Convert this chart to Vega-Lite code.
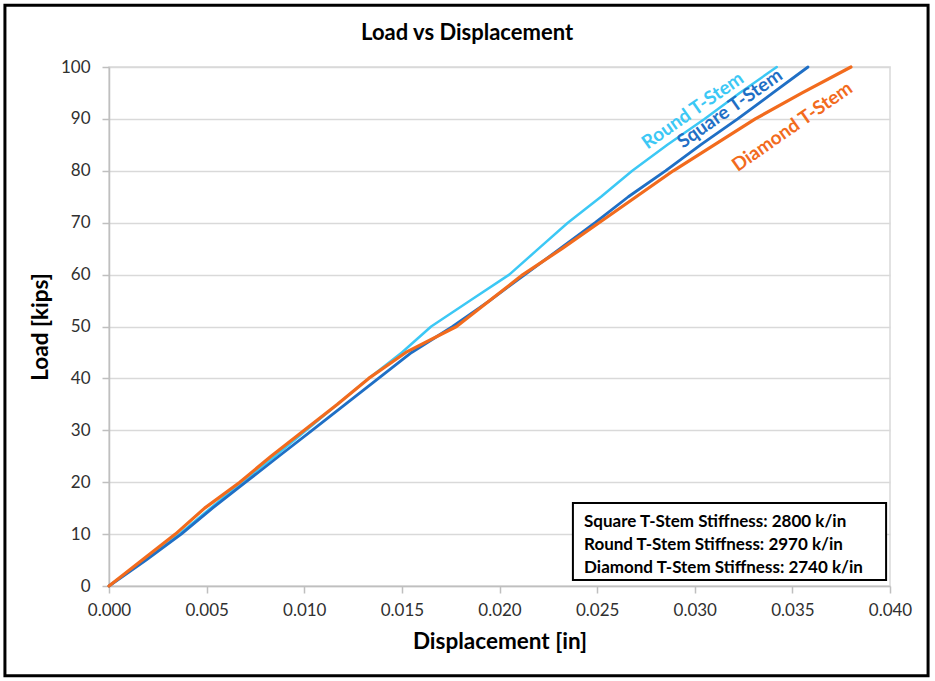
{
  "$schema": "https://vega.github.io/schema/vega-lite/v6.json",
  "autosize": {"type": "none"},
  "width": 781,
  "height": 519,
  "padding": {"left": 109, "top": 67, "right": 45, "bottom": 95},
  "background": "white",
  "config": {
    "view": {"stroke": "#d9d9d9", "strokeWidth": 1.5},
    "axis": {
      "labelFont": "Lato",
      "labelFontSize": 17,
      "labelColor": "#303030",
      "titleFont": "Lato",
      "titleFontSize": 22.5,
      "titleFontWeight": "bold",
      "titleColor": "#000000",
      "domainColor": "#bfbfbf",
      "domainWidth": 1.5,
      "tickColor": "#bfbfbf",
      "tickWidth": 1.5,
      "tickSize": 7,
      "gridColor": "#d9d9d9",
      "gridWidth": 1.5,
      "labelFlush": false
    }
  },
  "datasets": {
    "curves": [
      {"series": "Round", "disp": 0.0, "load": 0},
      {"series": "Round", "disp": 0.0018, "load": 5},
      {"series": "Round", "disp": 0.0036, "load": 10},
      {"series": "Round", "disp": 0.0052, "load": 15},
      {"series": "Round", "disp": 0.0068, "load": 20},
      {"series": "Round", "disp": 0.0085, "load": 25},
      {"series": "Round", "disp": 0.0101, "load": 30},
      {"series": "Round", "disp": 0.0117, "load": 35},
      {"series": "Round", "disp": 0.0133, "load": 40},
      {"series": "Round", "disp": 0.0150, "load": 45},
      {"series": "Round", "disp": 0.0165, "load": 50},
      {"series": "Round", "disp": 0.0185, "load": 55},
      {"series": "Round", "disp": 0.0205, "load": 60},
      {"series": "Round", "disp": 0.0220, "load": 65},
      {"series": "Round", "disp": 0.0235, "load": 70},
      {"series": "Round", "disp": 0.0252, "load": 75},
      {"series": "Round", "disp": 0.0268, "load": 80},
      {"series": "Round", "disp": 0.0286, "load": 85},
      {"series": "Round", "disp": 0.0305, "load": 90},
      {"series": "Round", "disp": 0.0323, "load": 95},
      {"series": "Round", "disp": 0.0342, "load": 100},
      {"series": "Square", "disp": 0.0, "load": 0},
      {"series": "Square", "disp": 0.0019, "load": 5},
      {"series": "Square", "disp": 0.0037, "load": 10},
      {"series": "Square", "disp": 0.0053, "load": 15},
      {"series": "Square", "disp": 0.0070, "load": 20},
      {"series": "Square", "disp": 0.0087, "load": 25},
      {"series": "Square", "disp": 0.0104, "load": 30},
      {"series": "Square", "disp": 0.0121, "load": 35},
      {"series": "Square", "disp": 0.0138, "load": 40},
      {"series": "Square", "disp": 0.0155, "load": 45},
      {"series": "Square", "disp": 0.0176, "load": 50},
      {"series": "Square", "disp": 0.0195, "load": 55},
      {"series": "Square", "disp": 0.0213, "load": 60},
      {"series": "Square", "disp": 0.0231, "load": 65},
      {"series": "Square", "disp": 0.0249, "load": 70},
      {"series": "Square", "disp": 0.0266, "load": 75},
      {"series": "Square", "disp": 0.0285, "load": 80},
      {"series": "Square", "disp": 0.0303, "load": 85},
      {"series": "Square", "disp": 0.0322, "load": 90},
      {"series": "Square", "disp": 0.0340, "load": 95},
      {"series": "Square", "disp": 0.0358, "load": 100},
      {"series": "Diamond", "disp": 0.0, "load": 0},
      {"series": "Diamond", "disp": 0.0017, "load": 5},
      {"series": "Diamond", "disp": 0.0034, "load": 10},
      {"series": "Diamond", "disp": 0.0049, "load": 15},
      {"series": "Diamond", "disp": 0.0067, "load": 20},
      {"series": "Diamond", "disp": 0.0083, "load": 25},
      {"series": "Diamond", "disp": 0.0100, "load": 30},
      {"series": "Diamond", "disp": 0.0117, "load": 35},
      {"series": "Diamond", "disp": 0.0133, "load": 40},
      {"series": "Diamond", "disp": 0.0152, "load": 45},
      {"series": "Diamond", "disp": 0.0178, "load": 50},
      {"series": "Diamond", "disp": 0.0195, "load": 55},
      {"series": "Diamond", "disp": 0.0212, "load": 60},
      {"series": "Diamond", "disp": 0.0232, "load": 65},
      {"series": "Diamond", "disp": 0.0251, "load": 70},
      {"series": "Diamond", "disp": 0.0270, "load": 75},
      {"series": "Diamond", "disp": 0.0289, "load": 80},
      {"series": "Diamond", "disp": 0.0310, "load": 85},
      {"series": "Diamond", "disp": 0.0331, "load": 90},
      {"series": "Diamond", "disp": 0.0355, "load": 95},
      {"series": "Diamond", "disp": 0.0380, "load": 100}
    ],
    "labels": [
      {"series": "Round", "text": "Round T-Stem", "disp": 0.0299, "load": 91.6},
      {"series": "Square", "text": "Square T-Stem", "disp": 0.0318, "load": 92.0},
      {"series": "Diamond", "text": "Diamond T-Stem", "disp": 0.0350, "load": 88.5}
    ],
    "box": [
      {"x1": 0.02376, "x2": 0.0398, "y1": 16.0, "y2": 1.16}
    ],
    "notes": [
      {"text": "Square T-Stem Stiffness: 2800 k/in", "disp": 0.02433, "load": 12.3},
      {"text": "Round T-Stem Stiffness: 2970 k/in", "disp": 0.02433, "load": 7.9},
      {"text": "Diamond T-Stem Stiffness: 2740 k/in", "disp": 0.02433, "load": 3.5}
    ],
    "heading": [
      {"text": "Load vs Displacement", "disp": 0.01834, "load": 106.6}
    ],
    "frame": [
      {"x1": -0.00533, "x2": 0.04195, "y1": 111.9, "y2": -17.3}
    ]
  },
  "layer": [
    {
      "data": {"name": "curves"},
      "mark": {"type": "line", "strokeCap": "round", "strokeJoin": "round"},
      "encoding": {
        "x": {
          "field": "disp", "type": "quantitative",
          "scale": {"domain": [0, 0.04], "nice": false},
          "axis": {"title": "Displacement [in]", "format": ".3f", "values": [0, 0.005, 0.01, 0.015, 0.02, 0.025, 0.03, 0.035, 0.04], "grid": false, "labelPadding": 9, "titlePadding": 12}
        },
        "y": {
          "field": "load", "type": "quantitative",
          "scale": {"domain": [0, 100], "nice": false},
          "axis": {"title": "Load [kips]", "values": [0, 10, 20, 30, 40, 50, 60, 70, 80, 90, 100], "grid": true, "labelPadding": 12, "titlePadding": 8}
        },
        "color": {
          "field": "series", "type": "nominal",
          "scale": {"domain": ["Round", "Square", "Diamond"], "range": ["#3CC8F5", "#1F6FC5", "#F26B1D"]},
          "legend": null
        },
        "strokeWidth": {
          "field": "series", "type": "nominal",
          "scale": {"domain": ["Round", "Square", "Diamond"], "range": [2.5, 3.2, 2.5]},
          "legend": null
        }
      }
    },
    {
      "data": {"name": "labels"},
      "mark": {"type": "text", "font": "Lato", "fontSize": 19, "fontWeight": "bold", "angle": 325, "align": "center", "baseline": "middle"},
      "encoding": {
        "x": {"field": "disp", "type": "quantitative"},
        "y": {"field": "load", "type": "quantitative"},
        "text": {"field": "text"},
        "color": {"field": "series", "type": "nominal", "legend": null}
      }
    },
    {
      "data": {"name": "box"},
      "mark": {"type": "rect", "fill": "white", "stroke": "#000000", "strokeWidth": 2},
      "encoding": {
        "x": {"field": "x1", "type": "quantitative"},
        "x2": {"field": "x2"},
        "y": {"field": "y1", "type": "quantitative"},
        "y2": {"field": "y2"}
      }
    },
    {
      "data": {"name": "notes"},
      "mark": {"type": "text", "font": "Lato", "fontSize": 17, "fontWeight": "bold", "align": "left", "baseline": "middle", "color": "#000000"},
      "encoding": {
        "x": {"field": "disp", "type": "quantitative"},
        "y": {"field": "load", "type": "quantitative"},
        "text": {"field": "text"}
      }
    },
    {
      "data": {"name": "heading"},
      "mark": {"type": "text", "font": "Lato", "fontSize": 22, "fontWeight": "bold", "align": "center", "baseline": "middle", "color": "#000000", "clip": false},
      "encoding": {
        "x": {"field": "disp", "type": "quantitative"},
        "y": {"field": "load", "type": "quantitative"},
        "text": {"field": "text"}
      }
    },
    {
      "data": {"name": "frame"},
      "mark": {"type": "rect", "fill": null, "fillOpacity": 0, "stroke": "#000000", "strokeWidth": 3, "clip": false},
      "encoding": {
        "x": {"field": "x1", "type": "quantitative"},
        "x2": {"field": "x2"},
        "y": {"field": "y1", "type": "quantitative"},
        "y2": {"field": "y2"}
      }
    }
  ]
}
